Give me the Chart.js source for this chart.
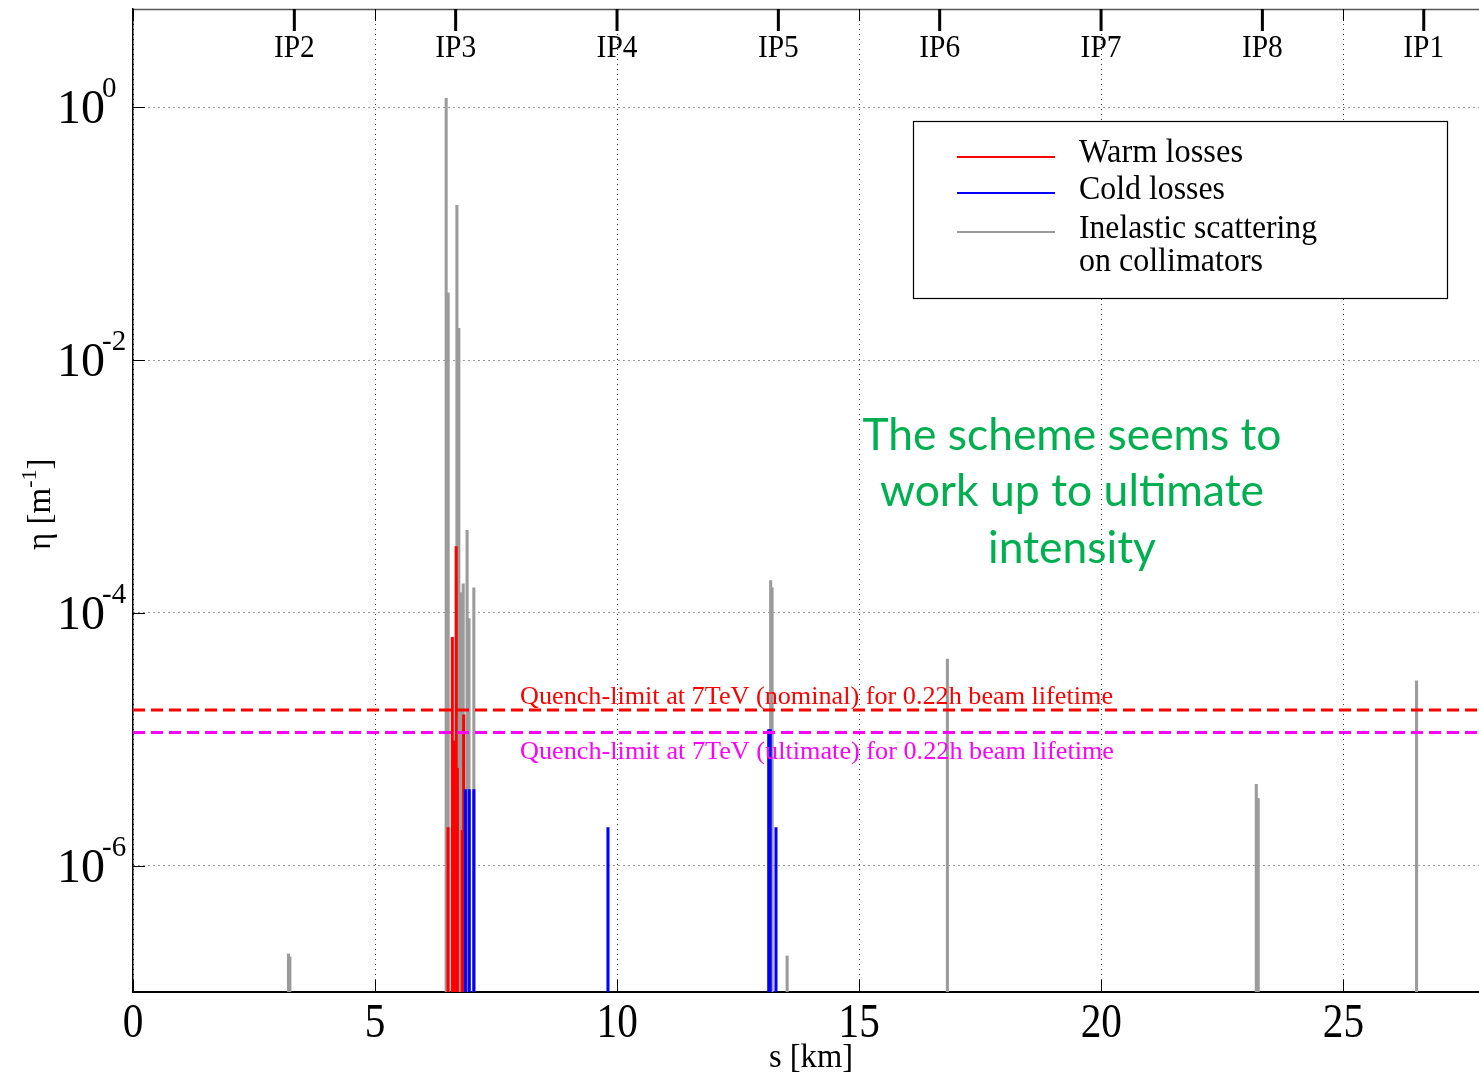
<!DOCTYPE html>
<html>
<head>
<meta charset="utf-8">
<title>Loss map</title>
<script src="https://cdn.jsdelivr.net/npm/chart.js@4/dist/chart.umd.min.js"></script>
<style>
  html, body { margin: 0; padding: 0; background: #ffffff; }
  canvas { display: block; }
</style>
</head>
<body>
<canvas id="c" width="1479" height="1076" style="width:1479px;height:1076px"></canvas>
<script>
// Longitudinal position s [km] and loss density eta [1/m] of each loss location
const warmS   = [6.507, 6.595, 6.63, 6.675, 6.70, 6.80, 6.83];
const warmEta = [2.0e-6, 6.4e-5, 9.7e-6, 3.35e-4, 5.9e-6, 1.9e-6, 1.56e-5];

const coldS   = [6.865, 6.945, 7.04, 9.81, 13.13, 13.16, 13.28];
const coldEta = [4.0e-6, 4.0e-6, 4.0e-6, 2.0e-6, 1.19e-5, 1.19e-5, 2.0e-6];

const inelS   = [3.21, 3.24, 6.468, 6.51, 6.69, 6.73, 6.77, 6.82, 6.90, 6.94, 7.04,
                 13.17, 13.20, 13.51, 16.82, 23.20, 23.24, 26.51];
const inelEta = [2.0e-7, 1.9e-7, 1.18, 0.034, 0.168, 0.0178, 1.45e-4, 1.70e-4, 4.5e-4, 9.0e-5, 1.58e-4,
                 1.8e-4, 1.58e-4, 1.93e-7, 4.3e-5, 4.4e-6, 3.4e-6, 2.9e-5];

// Quench limits at 7 TeV for a 0.22 h beam lifetime
const quenchNominal  = 1.7e-5;
const quenchUltimate = 1.13e-5;

// Interaction points along the ring
const ipNames = ['IP2', 'IP3', 'IP4', 'IP5', 'IP6', 'IP7', 'IP8', 'IP1'];
const ipS     = [3.332, 6.664, 9.997, 13.329, 16.661, 19.994, 23.326, 26.659];

// Axis ticks
const xTicks   = [0, 5, 10, 15, 20, 25];
const yTickExp = [0, -2, -4, -6];
const sMin = 0, sMax = 27.8;
const etaMin = 1e-7, etaMax = 6;

const legendLabels = ['Warm losses', 'Cold losses', 'Inelastic scattering', 'on collimators'];
const noteLines = ['The scheme seems to', 'work up to ultimate', 'intensity'];

const RED = '#ff0000', BLUE = '#0000ff', GREY = '#9b9b9b', MAGENTA = '#ff00ff', GREEN = '#00b050';
const SERIF = '"Liberation Serif", "Times New Roman", serif';

function bars(s, eta) {
  return s.map((v, i) => ({ x: v, y: [etaMin, eta[i]] }));
}

// Text drawn with a horizontal squeeze so that it spans a given width
function fitText(ctx, text, x, y, width, font, color, align) {
  ctx.save();
  ctx.font = font;
  const w = ctx.measureText(text).width;
  const k = width / w;
  let left = x;
  if (align === 'center') left = x - width / 2;
  else if (align === 'right') left = x - width;
  ctx.translate(left, y);
  ctx.scale(k, 1);
  ctx.fillStyle = color;
  ctx.textAlign = 'left';
  ctx.textBaseline = 'alphabetic';
  ctx.fillText(text, 0, 0);
  ctx.restore();
}

function scaledText(ctx, text, x, y, sx, font, color, align) {
  ctx.save();
  ctx.font = font;
  const w = ctx.measureText(text).width * sx;
  let left = x;
  if (align === 'center') left = x - w / 2;
  else if (align === 'right') left = x - w;
  ctx.translate(left, y);
  ctx.scale(sx, 1);
  ctx.fillStyle = color;
  ctx.textAlign = 'left';
  ctx.textBaseline = 'alphabetic';
  ctx.fillText(text, 0, 0);
  ctx.restore();
  return w;
}

const decorations = {
  id: 'decorations',
  afterDraw(chart) {
    const ctx = chart.ctx;
    const xs = chart.scales.x, ys = chart.scales.y;
    const area = chart.chartArea;

    ctx.save();
    // top frame line
    ctx.strokeStyle = '#555555';
    ctx.lineWidth = 1.5;
    ctx.beginPath();
    ctx.moveTo(area.left, area.top + 0.5);
    ctx.lineTo(area.right, area.top + 0.5);
    ctx.stroke();

    // inward tick marks
    ctx.strokeStyle = '#000000';
    ctx.lineWidth = 1;
    xTicks.forEach(v => {
      const px = Math.round(xs.getPixelForValue(v)) + 0.5;
      ctx.beginPath();
      ctx.moveTo(px, area.bottom); ctx.lineTo(px, area.bottom - 12);
      ctx.moveTo(px, area.top); ctx.lineTo(px, area.top + 12);
      ctx.stroke();
    });
    yTickExp.forEach(e => {
      const py = Math.round(ys.getPixelForValue(Math.pow(10, e))) + 0.5;
      ctx.beginPath();
      ctx.moveTo(area.left, py); ctx.lineTo(area.left + 12, py);
      ctx.stroke();
    });

    // IP markers on the top edge
    ctx.lineWidth = 3;
    ipS.forEach((s, i) => {
      const px = xs.getPixelForValue(s);
      ctx.beginPath();
      ctx.moveTo(px, area.top); ctx.lineTo(px, area.top + 22);
      ctx.stroke();
      scaledText(ctx, ipNames[i], px, 57, 0.92, '32px ' + SERIF, '#000', 'center');
    });

    // x tick labels
    xTicks.forEach(v => {
      const px = xs.getPixelForValue(v);
      scaledText(ctx, String(v), px, 1037, 0.86, '48px ' + SERIF, '#000', 'center');
    });

    // y tick labels as powers of ten
    yTickExp.forEach(e => {
      const py = ys.getPixelForValue(Math.pow(10, e));
      scaledText(ctx, '10', 57, py + 16, 1.0, '48px ' + SERIF, '#000', 'left');
      scaledText(ctx, String(e), 102, py - 10, 1.0, '29px ' + SERIF, '#000', 'left');
    });

    // axis titles
    fitText(ctx, 's [km]', 811, 1067, 84, '34px ' + SERIF, '#000', 'center');
    ctx.save();
    ctx.translate(50, 550);
    ctx.rotate(-Math.PI / 2);
    ctx.font = '33px ' + SERIF;
    ctx.fillStyle = '#000';
    ctx.textBaseline = 'alphabetic';
    let lx = 0;
    ctx.fillText('\u03b7 [m', lx, 0);
    lx += ctx.measureText('\u03b7 [m').width;
    ctx.font = '22px ' + SERIF;
    ctx.fillText('-1', lx, -14);
    lx += ctx.measureText('-1').width;
    ctx.font = '33px ' + SERIF;
    ctx.fillText(']', lx, 0);
    ctx.restore();

    // legend
    ctx.fillStyle = '#ffffff';
    ctx.fillRect(913, 121, 534, 177);
    ctx.strokeStyle = '#000000';
    ctx.lineWidth = 1.2;
    ctx.strokeRect(913.5, 121.5, 534, 177);
    const legendColors = [RED, BLUE, GREY];
    const legendLineY = [157, 193, 232];
    legendColors.forEach((c, i) => {
      ctx.strokeStyle = c;
      ctx.lineWidth = 2;
      ctx.beginPath();
      ctx.moveTo(957, legendLineY[i]); ctx.lineTo(1055, legendLineY[i]);
      ctx.stroke();
    });
    const lw = [164, 146, 238, 184];
    const lb = [162, 199, 238, 271];
    legendLabels.forEach((t, i) => fitText(ctx, t, 1079, lb[i], lw[i], '33px ' + SERIF, '#000', 'left'));

    // quench-limit labels
    fitText(ctx, 'Quench-limit at 7TeV (nominal) for 0.22h beam lifetime', 520, 704, 593, '25px ' + SERIF, RED, 'left');
    fitText(ctx, 'Quench-limit at 7TeV (ultimate) for 0.22h beam lifetime', 520, 759, 594, '25px ' + SERIF, MAGENTA, 'left');

    // note
    const nw = [419, 384, 168];
    const nb = [450, 506, 563];
    noteLines.forEach((t, i) => fitText(ctx, t, 1072, nb[i], nw[i], '45px Lato, "Open Sans", sans-serif', GREEN, 'center'));

    ctx.restore();
  }
};

new Chart(document.getElementById('c'), {
  type: 'bar',
  data: {
    datasets: [
      { type: 'line', data: [{ x: sMin, y: quenchNominal }, { x: sMax, y: quenchNominal }],
        borderColor: RED, borderWidth: 3, borderDash: [12, 6], pointRadius: 0, fill: false, order: 0 },
      { type: 'line', data: [{ x: sMin, y: quenchUltimate }, { x: sMax, y: quenchUltimate }],
        borderColor: MAGENTA, borderWidth: 3, borderDash: [12, 6], pointRadius: 0, fill: false, order: 0 },
      { label: 'Cold losses', data: bars(coldS, coldEta), backgroundColor: BLUE,
        barThickness: 2.4, grouped: false, order: 1 },
      { label: 'Warm losses', data: bars(warmS, warmEta), backgroundColor: RED,
        barThickness: 2.4, grouped: false, order: 2 },
      { label: 'Inelastic scattering on collimators', data: bars(inelS, inelEta), backgroundColor: GREY,
        barThickness: 2.4, grouped: false, order: 3 }
    ]
  },
  options: {
    responsive: false,
    animation: false,
    devicePixelRatio: 1,
    layout: { padding: { left: 0, top: 9, right: 0, bottom: 0 } },
    plugins: { legend: { display: false }, tooltip: { enabled: false } },
    scales: {
      x: {
        type: 'linear', min: sMin, max: sMax, offset: false,
        ticks: { display: false, stepSize: 5 },
        grid: { color: '#333333', lineWidth: 1, drawTicks: false, offset: false },
        border: { display: true, color: '#000000', width: 2, dash: [1, 4] },
        afterBuildTicks: s => { s.ticks = xTicks.map(v => ({ value: v })); },
        afterFit: s => { s.height = 84; }
      },
      y: {
        type: 'logarithmic', min: etaMin, max: etaMax,
        ticks: { display: false },
        grid: { color: '#333333', lineWidth: 1, drawTicks: false, offset: false },
        border: { display: true, color: '#000000', width: 1.5, dash: [1, 4] },
        afterBuildTicks: s => { s.ticks = yTickExp.map(e => ({ value: Math.pow(10, e) })); },
        afterFit: s => { s.width = 133; }
      }
    }
  },
  plugins: [decorations]
});
</script>
</body>
</html>
